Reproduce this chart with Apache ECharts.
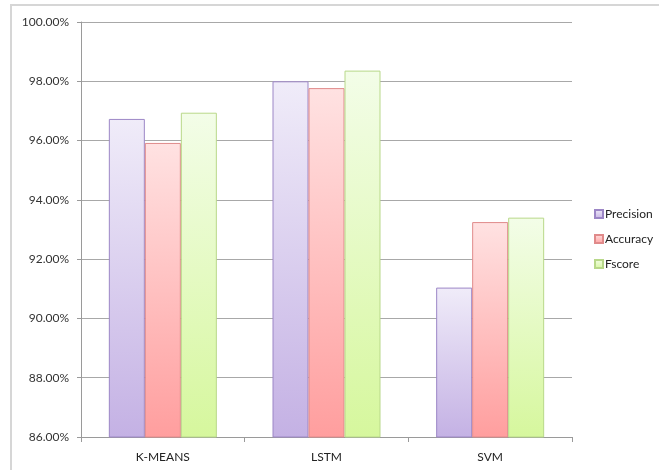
<!DOCTYPE html>
<html>
<head>
<meta charset="utf-8">
<script src="https://cdn.jsdelivr.net/npm/echarts@6/dist/echarts.min.js"></script>
<style>
  html, body { margin: 0; padding: 0; background: #ffffff; }
  #chart { width: 659px; height: 470px; }
</style>
</head>
<body>
<div id="chart"></div>
<script>
// Models compared
const categories = ['K-MEANS', 'LSTM', 'SVM'];
// Scores in percent
const precision = [96.73, 98.0, 91.04];
const accuracy = [95.92, 97.77, 93.25];
const fscore = [96.94, 98.36, 93.4];
// Value axis range and step (percent)
const yMin = 86, yMax = 100, yStep = 2;

function grad(top, bottom) {
  return new echarts.graphic.LinearGradient(0, 0, 0, 1, [
    { offset: 0, color: top },
    { offset: 1, color: bottom }
  ]);
}

const font = 'Lato, "Open Sans", sans-serif';

const chart = echarts.init(document.getElementById('chart'), null, { renderer: 'canvas' });

function barSeries(name, data, top, bottom, border) {
  return {
    name: name,
    type: 'bar',
    data: data,
    barWidth: 36,
    barGap: '0%',
    itemStyle: {
      color: grad(top, bottom),
      borderColor: border,
      borderWidth: 1
    },
    emphasis: { disabled: true }
  };
}

chart.setOption({
  animation: false,
  backgroundColor: '#ffffff',
  graphic: [{
    type: 'rect',
    shape: { x: 11, y: 5, width: 660, height: 480 },
    style: { fill: 'none', stroke: '#d6d6d6', lineWidth: 2 },
    silent: true,
    z: -1
  }],
  grid: { left: 81, right: 87, top: 22, bottom: 33, containLabel: false },
  legend: {
    orient: 'vertical',
    left: 589,
    top: 203,
    itemWidth: 8,
    itemHeight: 8,
    itemGap: 13,
    icon: 'rect',
    textStyle: { fontFamily: font, fontSize: 12, color: '#222222', padding: [0, 0, 0, -3] },
    data: ['Precision', 'Accuracy', 'Fscore']
  },
  xAxis: {
    type: 'category',
    data: categories,
    axisLine: { show: true, lineStyle: { color: '#9a9a9a', width: 1 } },
    axisTick: { show: true, length: 5, alignWithLabel: false, lineStyle: { color: '#9a9a9a' } },
    axisLabel: { margin: 14, fontFamily: font, fontSize: 12, color: '#222222' },
    splitLine: { show: false }
  },
  yAxis: {
    type: 'value',
    min: yMin,
    max: yMax,
    interval: yStep,
    axisLine: { show: true, lineStyle: { color: '#9a9a9a', width: 1 } },
    axisTick: { show: true, length: 4, lineStyle: { color: '#9a9a9a' } },
    axisLabel: {
      margin: 12,
      fontFamily: font,
      fontSize: 12,
      color: '#333333',
      formatter: v => v.toFixed(2) + '%'
    },
    splitLine: { show: true, lineStyle: { color: '#a8a8a8', width: 1 } }
  },
  series: [
    barSeries('Precision', precision, '#f0ecf9', '#c4b1e4', '#9c86c6'),
    barSeries('Accuracy', accuracy, '#ffe2e2', '#ff9e9e', '#e08a8a'),
    barSeries('Fscore', fscore, '#f3fde8', '#d6f79d', '#b8d889')
  ]
});
</script>
</body>
</html>
